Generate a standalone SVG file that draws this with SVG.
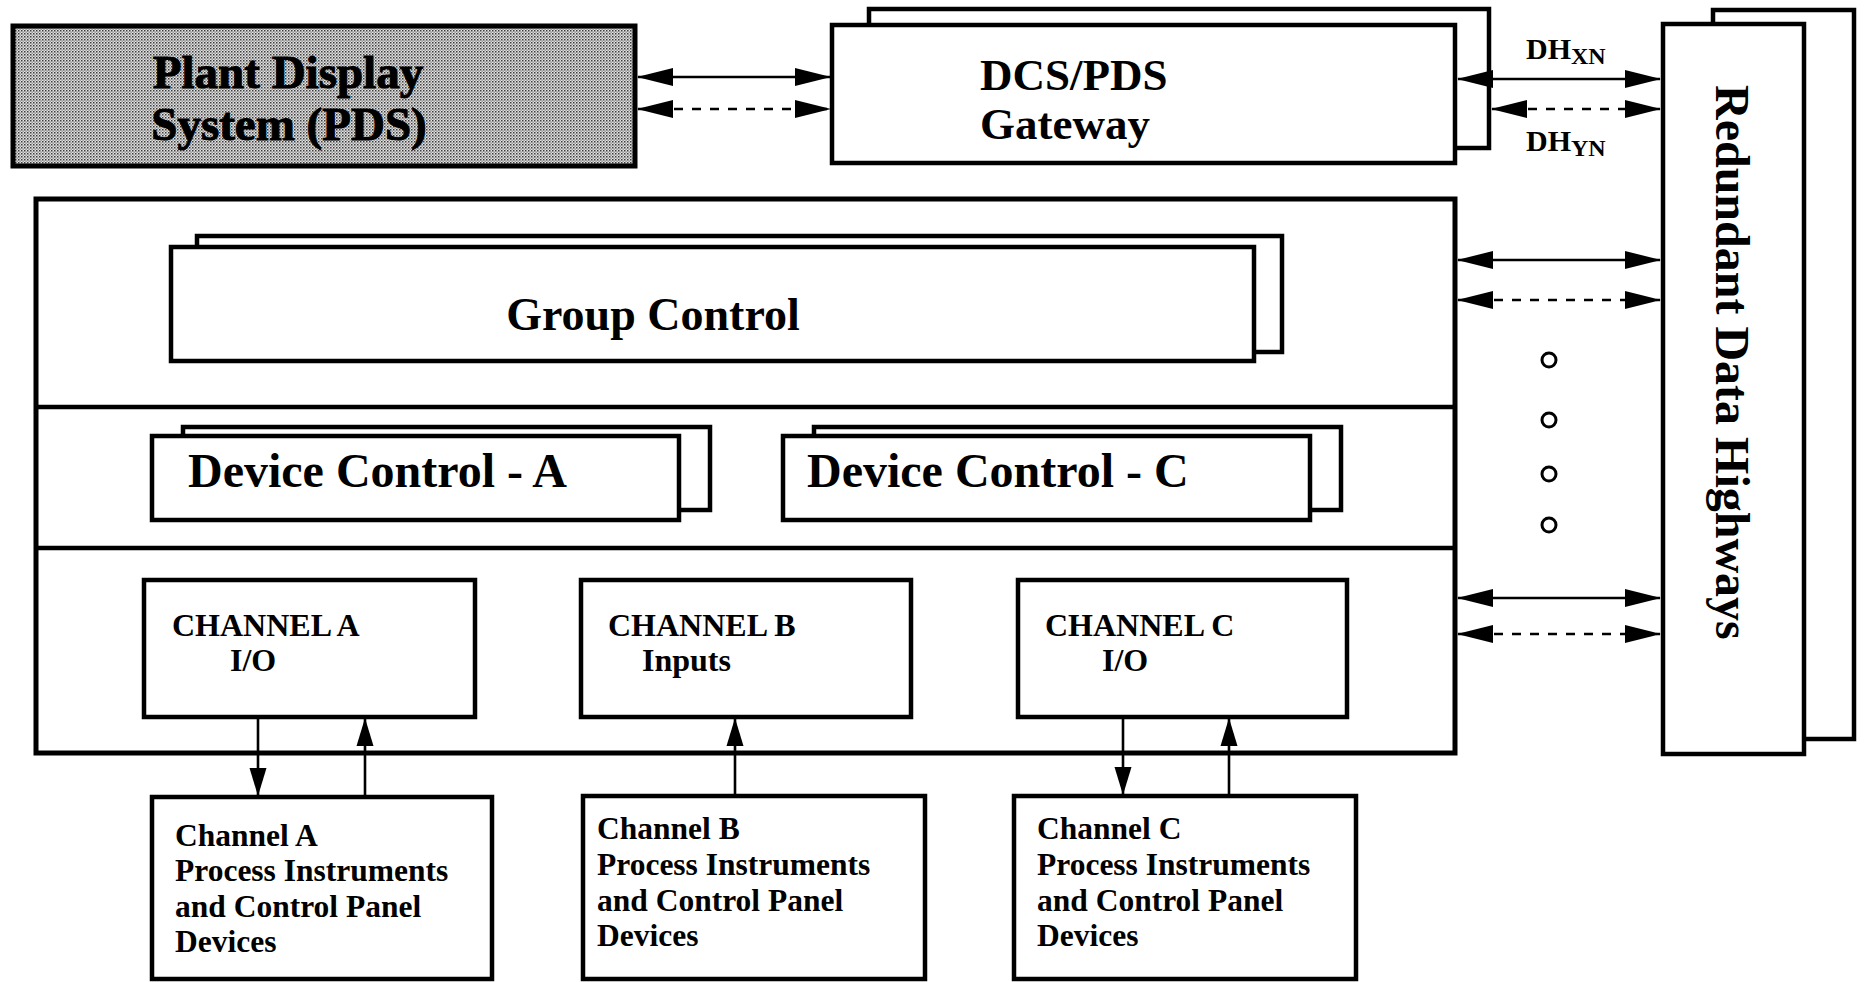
<svg xmlns="http://www.w3.org/2000/svg" width="1865" height="982" viewBox="0 0 1865 982">
  <defs>
    <!-- halftone grey used for the display-system block -->
    <pattern id="halftone" width="3" height="3" patternUnits="userSpaceOnUse">
      <rect width="3" height="3" fill="#e2e2e2"/>
      <rect x="0" y="0" width="1.5" height="1.5" fill="#3c3c3c"/>
      <rect x="1.5" y="1.5" width="1.3" height="1.3" fill="#7a7a7a"/>
    </pattern>
    <marker id="ah" viewBox="0 0 36 20" refX="35" refY="10" markerWidth="36" markerHeight="20" markerUnits="userSpaceOnUse" orient="auto-start-reverse">
      <path d="M0,1 L36,10 L0,19 Z" fill="#000"/>
    </marker>
    <marker id="ahv" viewBox="0 0 28 18" refX="27" refY="9" markerWidth="28" markerHeight="18" markerUnits="userSpaceOnUse" orient="auto-start-reverse">
      <path d="M0,0.5 L28,9 L0,17.5 Z" fill="#000"/>
    </marker>
    <style>
      .box { fill: #fff; stroke: #000; stroke-width: 4.5; }
      .frame { fill: none; stroke: #000; stroke-width: 5; }
      .rule { stroke: #000; stroke-width: 4.5; }
      .link { stroke: #000; stroke-width: 2.6; fill: none; }
      .dash { stroke-dasharray: 9 9; }
      .dot { fill: #fff; stroke: #000; stroke-width: 3; }
      text { font-family: "Liberation Serif", "Times New Roman", serif; font-weight: bold; fill: #000; }
      .big { font-size: 46px; }
      .dc { font-size: 48px; }
      .gw { font-size: 45px; }
      .hw { font-size: 48px; }
      .pds { font-size: 47px; stroke: #000; stroke-width: 1; }
      .ch { font-size: 32px; }
      .dev { font-size: 31.5px; }
      .dh { font-size: 30px; }
      .sub { font-size: 24px; }
    </style>
  </defs>

  <!-- Plant Display System -->
  <g id="pds">
    <rect x="13" y="26" width="622" height="140" fill="url(#halftone)" stroke="#000" stroke-width="5"/>
    <text class="pds" x="288" y="88" text-anchor="middle">Plant Display</text>
    <text class="pds" x="289" y="140" text-anchor="middle">System (PDS)</text>
  </g>

  <!-- DCS/PDS gateway (redundant pair) -->
  <g id="gateway">
    <rect class="box" x="869" y="9" width="620" height="139"/>
    <rect class="box" x="832" y="25" width="623" height="138"/>
    <text class="gw" x="980" y="90">DCS/PDS</text>
    <text class="gw" x="980" y="139">Gateway</text>
  </g>

  <!-- Data highway labels -->
  <g id="dh-labels">
    <text class="dh" x="1526" y="59">DH<tspan class="sub" dy="5">XN</tspan></text>
    <text class="dh" x="1526" y="151">DH<tspan class="sub" dy="5">YN</tspan></text>
  </g>

  <!-- Redundant data highways (redundant pair) -->
  <g id="highways">
    <rect class="box" x="1713" y="10" width="141" height="729"/>
    <rect class="box" x="1663" y="24" width="141" height="730"/>
    <text class="hw" transform="translate(1716,85) rotate(90)">Redundant Data Highways</text>
  </g>

  <!-- Control system enclosure with its three tiers -->
  <g id="controller">
    <rect class="frame" x="36" y="199" width="1419" height="554"/>
    <line class="rule" x1="36" y1="407" x2="1455" y2="407"/>
    <line class="rule" x1="36" y1="548" x2="1455" y2="548"/>
  </g>

  <g id="group-control">
    <rect class="box" x="197" y="236" width="1085" height="116"/>
    <rect class="box" x="171" y="247" width="1083" height="114"/>
    <text class="big" x="653" y="330" text-anchor="middle">Group Control</text>
  </g>

  <g id="device-control-a">
    <rect class="box" x="183" y="427" width="527" height="83"/>
    <rect class="box" x="152" y="436" width="527" height="84"/>
    <text class="dc" x="188" y="487">Device Control - A</text>
  </g>

  <g id="device-control-c">
    <rect class="box" x="814" y="427" width="527" height="83"/>
    <rect class="box" x="783" y="436" width="527" height="84"/>
    <text class="dc" x="807" y="487">Device Control - C</text>
  </g>

  <g id="channel-a-io">
    <rect class="box" x="144" y="580" width="331" height="137"/>
    <text class="ch" x="172" y="636">CHANNEL A</text>
    <text class="ch" x="230" y="671">I/O</text>
  </g>

  <g id="channel-b-inputs">
    <rect class="box" x="581" y="580" width="330" height="137"/>
    <text class="ch" x="608" y="636">CHANNEL B</text>
    <text class="ch" x="642" y="671">Inputs</text>
  </g>

  <g id="channel-c-io">
    <rect class="box" x="1018" y="580" width="329" height="137"/>
    <text class="ch" x="1045" y="636">CHANNEL C</text>
    <text class="ch" x="1102" y="671">I/O</text>
  </g>

  <!-- Field devices -->
  <g id="field-a">
    <rect class="box" x="152" y="797" width="340" height="182"/>
    <text class="dev" x="175" y="846">Channel A</text>
    <text class="dev" x="175" y="881">Process Instruments</text>
    <text class="dev" x="175" y="917">and Control Panel</text>
    <text class="dev" x="175" y="952">Devices</text>
  </g>

  <g id="field-b">
    <rect class="box" x="583" y="796" width="342" height="183"/>
    <text class="dev" x="597" y="839">Channel B</text>
    <text class="dev" x="597" y="875">Process Instruments</text>
    <text class="dev" x="597" y="911">and Control Panel</text>
    <text class="dev" x="597" y="946">Devices</text>
  </g>

  <g id="field-c">
    <rect class="box" x="1014" y="796" width="342" height="183"/>
    <text class="dev" x="1037" y="839">Channel C</text>
    <text class="dev" x="1037" y="875">Process Instruments</text>
    <text class="dev" x="1037" y="911">and Control Panel</text>
    <text class="dev" x="1037" y="946">Devices</text>
  </g>

  <!-- further highway taps -->
  <g id="continuation">
    <circle class="dot" cx="1549" cy="360" r="7"/>
    <circle class="dot" cx="1549" cy="420" r="7"/>
    <circle class="dot" cx="1549" cy="474" r="7"/>
    <circle class="dot" cx="1549" cy="525" r="7"/>
  </g>

  <!-- connectors -->
  <g id="connectors">
    <!-- PDS <-> gateway -->
    <line class="link" x1="638" y1="77" x2="830" y2="77" marker-start="url(#ah)" marker-end="url(#ah)"/>
    <line class="link dash" x1="638" y1="109" x2="830" y2="109" marker-start="url(#ah)" marker-end="url(#ah)"/>
    <!-- gateway <-> highways -->
    <line class="link" x1="1458" y1="79" x2="1660" y2="79" marker-start="url(#ah)" marker-end="url(#ah)"/>
    <line class="link dash" x1="1492" y1="109" x2="1660" y2="109" marker-start="url(#ah)" marker-end="url(#ah)"/>
    <!-- control system <-> highways -->
    <line class="link" x1="1458" y1="260" x2="1660" y2="260" marker-start="url(#ah)" marker-end="url(#ah)"/>
    <line class="link dash" x1="1458" y1="300" x2="1660" y2="300" marker-start="url(#ah)" marker-end="url(#ah)"/>
    <line class="link" x1="1458" y1="598" x2="1660" y2="598" marker-start="url(#ah)" marker-end="url(#ah)"/>
    <line class="link dash" x1="1458" y1="634" x2="1660" y2="634" marker-start="url(#ah)" marker-end="url(#ah)"/>
    <!-- channel I/O <-> field devices -->
    <line class="link" x1="258" y1="719" x2="258" y2="795" marker-end="url(#ahv)"/>
    <line class="link" x1="365" y1="795" x2="365" y2="719" marker-end="url(#ahv)"/>
    <line class="link" x1="735" y1="794" x2="735" y2="719" marker-end="url(#ahv)"/>
    <line class="link" x1="1123" y1="719" x2="1123" y2="794" marker-end="url(#ahv)"/>
    <line class="link" x1="1229" y1="794" x2="1229" y2="719" marker-end="url(#ahv)"/>
  </g>
</svg>
